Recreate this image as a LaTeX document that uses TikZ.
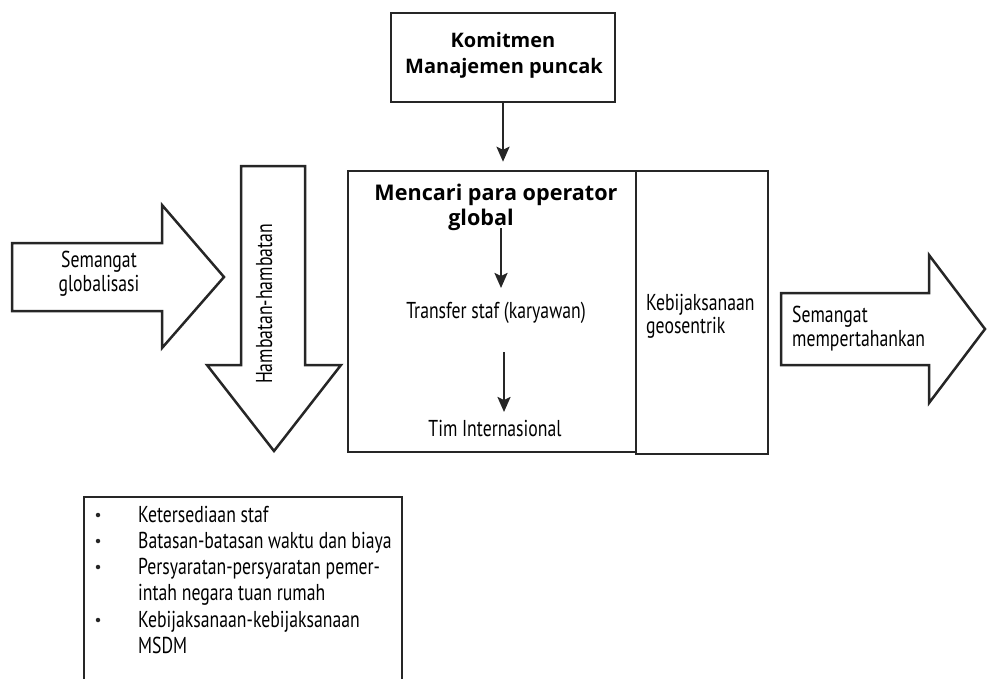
\documentclass[tikz,border=0pt]{standalone}
\usepackage{fontspec}
\setmainfont{PT Sans}
\newfontfamily\condfont[FakeStretch=0.77]{PT Sans}
\newfontfamily\headfont{Open Sans}
\usetikzlibrary{arrows.meta}
\begin{document}
\begin{tikzpicture}[x=1pt,y=-1pt,
  outline/.style={draw=black!85,line width=2.5pt,line join=miter},
  flowarrow/.style={draw=black!85,line width=2.3pt,-{Stealth[length=15pt,width=13pt,inset=3pt]}},
  cond/.style={font=\condfont\fontsize{23}{26}\selectfont,inner sep=0pt},
  head/.style={font=\headfont\bfseries\fontsize{20}{24}\selectfont,inner sep=0pt},
  bighead/.style={font=\headfont\bfseries\fontsize{21.6}{26}\selectfont,inner sep=0pt},
  item/.style={cond,anchor=base west},
  dot/.style={circle,fill=black!85,inner sep=0pt,minimum size=4.5pt}]
\useasboundingbox (0,0) rectangle (987,678);

% block arrows
\draw[outline] (12,243) -- (162,243) -- (162,205) -- (224,277) -- (162,348) -- (162,311) -- (12,311) -- cycle;
\draw[outline] (241,166) -- (305,166) -- (305,365) -- (341,365) -- (274,451) -- (207,365) -- (241,365) -- cycle;
\draw[outline] (781,293) -- (929,293) -- (929,255) -- (985,329) -- (929,403) -- (929,365) -- (781,365) -- cycle;

\node[cond,anchor=base] (sg1) at (99,267) {Semangat};
\node[cond,anchor=base] (sg2) at (99,291) {globalisasi};
\node[cond,rotate=90,anchor=base] (hamb) at (272,304) {Hambatan-hambatan};
\node[cond,anchor=base west] (sm1) at (792,322) {Semangat};
\node[cond,anchor=base west] (sm2) at (792,346) {mempertahankan};

% top box
\node[outline,minimum width=224pt,minimum height=89pt,inner sep=0pt] (komit) at (503,57.5) {};
\node[head,anchor=base] (k1) at (503,47) {Komitmen};
\node[head,anchor=base] (k2) at (504,73) {Manajemen puncak};

% main boxes
\node[outline,minimum width=288pt,minimum height=281pt,inner sep=0pt] (mainbox) at (492,311.5) {};
\node[outline,minimum width=132pt,minimum height=283pt,inner sep=0pt] (policy) at (702,312.5) {};

\draw[flowarrow,shorten >=8pt] (komit.south) -- (komit.south |- mainbox.north);

\node[bighead,anchor=base] (m1) at (496,200) {Mencari para operator};
\node[bighead,anchor=base] (m2) at (481,225) {global};
\node[cond,anchor=base] (tr) at (496,318) {Transfer staf (karyawan)};
\node[cond,anchor=base] (tim) at (495,436) {Tim Internasional};
\node[cond,anchor=base west] (kb1) at (646,310) {Kebijaksanaan};
\node[cond,anchor=base west] (kb2) at (646,333) {geosentrik};

\coordinate (a1s) at (501,228);
\coordinate (a1e) at (501,288);
\coordinate (a2s) at (504,352);
\coordinate (a2e) at (504,412);
\draw[flowarrow] (a1s) -- (a1e);
\draw[flowarrow] (a2s) -- (a2e);

% list of barriers
\coordinate (lb1) at (84,680);
\coordinate (lb2) at (84,497);
\coordinate (lb3) at (402,497);
\coordinate (lb4) at (402,680);
\draw[outline] (lb1) -- (lb2) -- (lb3) -- (lb4);

\node[item] (i1) at (138,522) {Ketersediaan staf};
\node[item] (i2) at (138,548) {Batasan-batasan waktu dan biaya};
\node[item] (i3) at (138,574) {Persyaratan-persyaratan pemer-};
\node[item] (i3b) at (138,600) {intah negara tuan rumah};
\node[item] (i4) at (138,627) {Kebijaksanaan-kebijaksanaan};
\node[item] (i4b) at (138,653) {MSDM};
\node[dot] (d1) at (98,515) {};
\node[dot] (d2) at (98,541) {};
\node[dot] (d3) at (98,567) {};
\node[dot] (d4) at (98,620) {};
\end{tikzpicture}
\end{document}
